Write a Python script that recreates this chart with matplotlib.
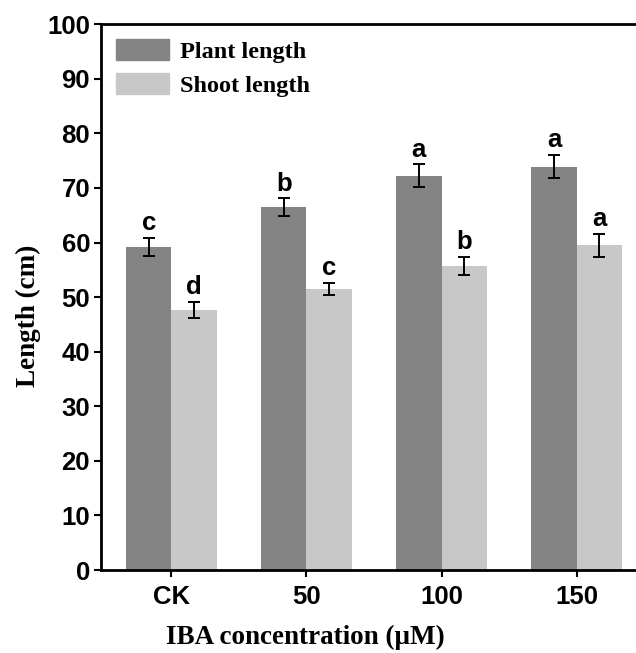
import numpy as np
import matplotlib.pyplot as plt
from matplotlib.patches import Patch

groups = ["CK", "50", "100", "150"]
plant = [59.2, 66.5, 72.2, 73.9]
plant_err = [1.7, 1.6, 2.1, 2.1]
shoot = [47.6, 51.5, 55.7, 59.5]
shoot_err = [1.5, 1.1, 1.7, 2.1]
plant_sig = ["c", "b", "a", "a"]
shoot_sig = ["d", "c", "b", "a"]

plant_color = "#848484"
shoot_color = "#c8c8c8"

fig = plt.figure(figsize=(6.36, 6.53), dpi=100)
# right spine falls just outside the saved canvas
ax = fig.add_axes([0.159, 0.127, 0.858, 0.836])

x = np.arange(len(groups))
w = 0.335
ax.bar(x - w / 2, plant, w, color=plant_color, zorder=2)
ax.bar(x + w / 2, shoot, w, color=shoot_color, zorder=2)
ax.errorbar(x - w / 2, plant, yerr=plant_err, fmt="none", ecolor="black",
            elinewidth=1.4, capsize=4.4, capthick=1.4, zorder=3)
ax.errorbar(x + w / 2, shoot, yerr=shoot_err, fmt="none", ecolor="black",
            elinewidth=1.4, capsize=4.4, capthick=1.4, zorder=3)

for xi, v, e, s in zip(x - w / 2, plant, plant_err, plant_sig):
    ax.text(xi, v + e + 0.5, s, ha="center", va="bottom", fontsize=18.5,
            fontweight="bold", family="Liberation Sans")
for xi, v, e, s in zip(x + w / 2, shoot, shoot_err, shoot_sig):
    ax.text(xi, v + e + 0.5, s, ha="center", va="bottom", fontsize=18.5,
            fontweight="bold", family="Liberation Sans")

ax.set_xlim(-0.52, 3.52)
ax.set_ylim(0, 100)
ax.set_yticks(range(0, 101, 10))
ax.set_xticks(x)
ax.set_xticklabels(groups)
for lab in ax.get_xticklabels() + ax.get_yticklabels():
    lab.set_family("Liberation Sans")
    lab.set_fontweight("bold")
    lab.set_fontsize(18.5)
ax.tick_params(direction="out", length=5, width=1.5, pad=3)
ax.tick_params(axis="x", pad=6)
for sp in ax.spines.values():
    sp.set_linewidth(2)

ax.set_ylabel("Length (cm)", family="Liberation Serif", fontweight="bold",
              fontsize=19.5)
ax.set_xlabel("IBA concentration (\u03bcM)", family="Liberation Serif",
              fontweight="bold", fontsize=19.5)
ax.yaxis.set_label_coords(-0.110, 0.465)
ax.xaxis.set_label_coords(0.375, -0.100)

handles = [Patch(color=plant_color, label="Plant length"),
           Patch(color=shoot_color, label="Shoot length")]
ax.legend(handles=handles, loc="upper left", frameon=False,
          prop={"family": "Liberation Serif", "weight": "bold", "size": 17.5},
          handlelength=2.2, handleheight=1.0, borderaxespad=0.2,
          handletextpad=0.45, labelspacing=0.4)

fig.savefig("out.png", dpi=100)
